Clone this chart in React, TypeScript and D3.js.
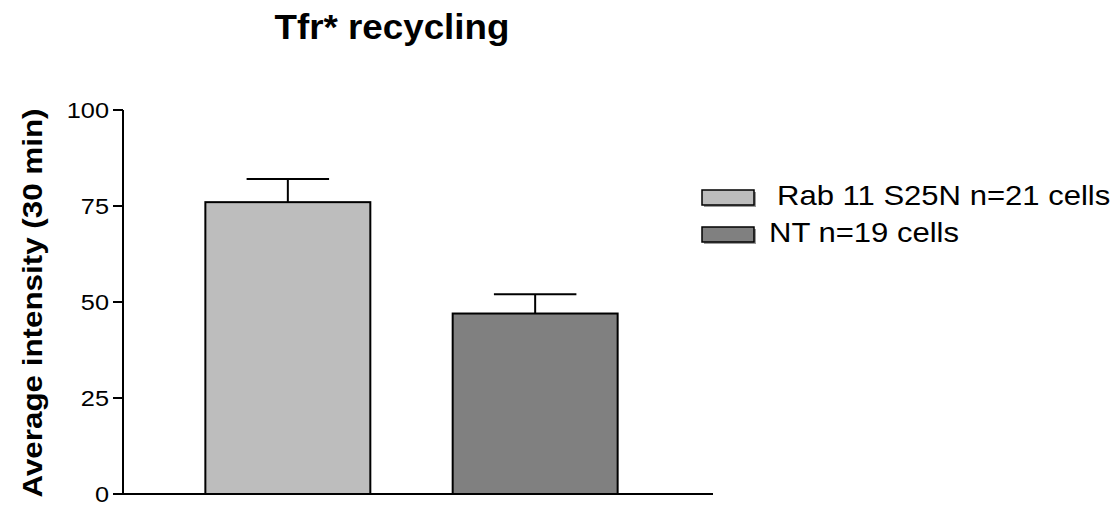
import * as d3 from "d3";

const categories = ["Rab 11 S25N n=21 cells", "NT n=19 cells"];
const means = [76, 47];
const errors = [6, 5];
const yTicks = [0, 25, 50, 75, 100];
const fills = ["#bdbdbd", "#808080"];

const font = "'Liberation Sans', Arial, sans-serif";

export default function App() {
  const w = 1113;
  const h = 516;

  const y = d3.scaleLinear().domain([0, 100]).range([494, 110]);
  const x = d3
    .scaleBand<string>()
    .domain(categories)
    .range([123, 700])
    .paddingInner(0.333)
    .paddingOuter(0.333);

  const capW = x.bandwidth() / 2;
  const legendX = [777, 769];

  return (
    <svg width={w} height={h} style={{ position: "absolute", left: 0, top: 0, background: "#fff" }}>
      <text
        transform="translate(392, 39) scale(1.05, 1)"
        textAnchor="middle"
        fontFamily={font}
        fontWeight="bold"
        fontSize={35}
      >
        Tfr* recycling
      </text>

      <text
        transform="translate(42, 303) rotate(-90) scale(1.12, 1)"
        textAnchor="middle"
        fontFamily={font}
        fontWeight="bold"
        fontSize={28}
      >
        Average intensity (30 min)
      </text>

      {/* y axis */}
      <line x1={123} x2={123} y1={y(100)} y2={y(0)} stroke="#000" strokeWidth={2} />
      <line x1={122} x2={713} y1={y(0)} y2={y(0)} stroke="#000" strokeWidth={2} />
      {yTicks.map((t) => (
        <g key={t}>
          <line x1={113} x2={123} y1={y(t)} y2={y(t)} stroke="#000" strokeWidth={2} />
          <text
            transform={`translate(109, ${y(t)}) scale(1.15, 1)`}
            dy="0.36em"
            textAnchor="end"
            fontFamily={font}
            fontSize={22}
          >
            {t}
          </text>
        </g>
      ))}

      {/* bars */}
      {categories.map((c, i) => {
        const cx = (x(c) as number) + x.bandwidth() / 2;
        return (
          <g key={c}>
            <line x1={cx} x2={cx} y1={y(means[i])} y2={y(means[i] + errors[i])} stroke="#000" strokeWidth={2} />
            <line
              x1={cx - capW / 2}
              x2={cx + capW / 2}
              y1={y(means[i] + errors[i])}
              y2={y(means[i] + errors[i])}
              stroke="#000"
              strokeWidth={2}
            />
            <rect
              x={x(c)}
              y={y(means[i])}
              width={x.bandwidth()}
              height={y(0) - y(means[i])}
              fill={fills[i]}
              stroke="#000"
              strokeWidth={2}
            />
          </g>
        );
      })}

      {/* legend */}
      {categories.map((c, i) => (
        <g key={c}>
          <rect x={704} y={192 + i * 37} width={52} height={15} fill="#9a9a9a" />
          <rect x={702} y={190 + i * 37} width={52} height={15} fill={fills[i]} stroke="#000" strokeWidth={1.5} />
          <text
            transform={`translate(${legendX[i]}, ${205 + i * 37}) scale(1.15, 1)`}
            fontFamily={font}
            fontSize={27}
          >
            {c}
          </text>
        </g>
      ))}
    </svg>
  );
}
